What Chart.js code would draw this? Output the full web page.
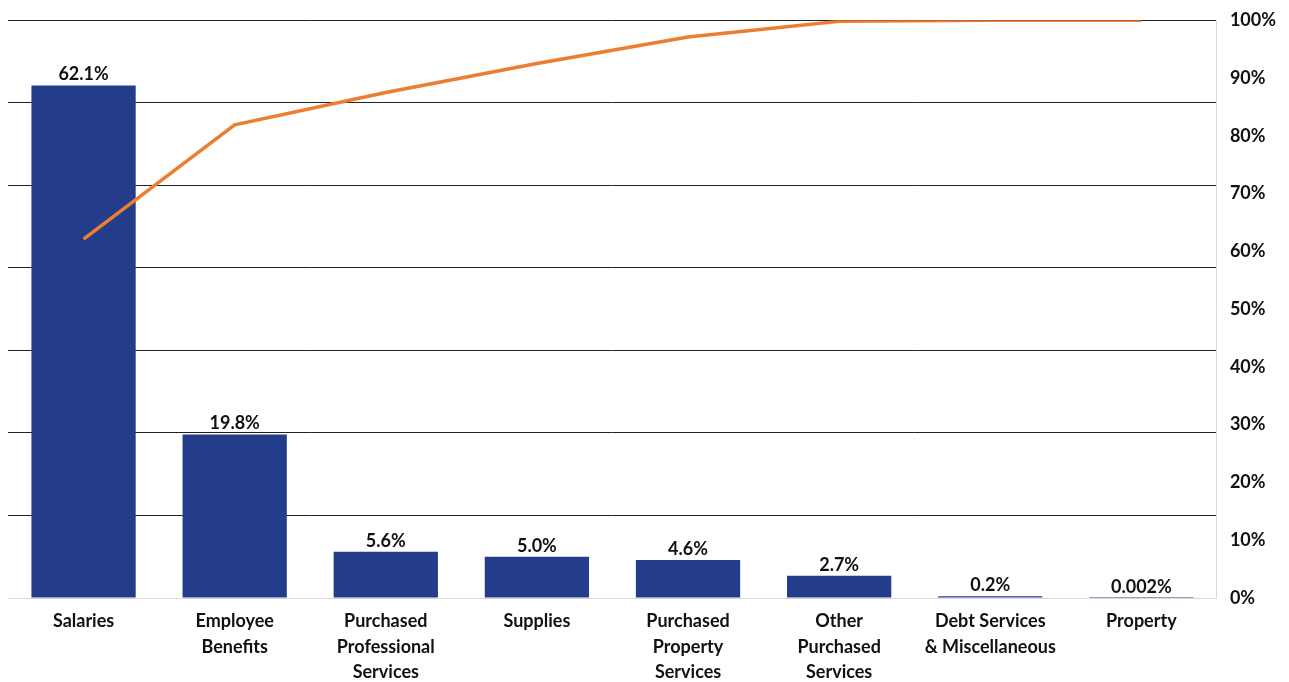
<!DOCTYPE html>
<html>
<head>
<meta charset="utf-8">
<script src="https://cdn.jsdelivr.net/npm/chart.js@4.4.1/dist/chart.umd.min.js"></script>
<style>
  html, body { margin: 0; padding: 0; background: #fff; }
  #wrap { width: 1289px; height: 682px; position: relative; }
</style>
</head>
<body>
<div id="wrap"><canvas id="myChart"></canvas></div>
<script>
const categories = [
    "Salaries",
    ["Employee", "Benefits"],
    ["Purchased", "Professional", "Services"],
    "Supplies",
    ["Purchased", "Property", "Services"],
    ["Other", "Purchased", "Services"],
    ["Debt Services", "& Miscellaneous"],
    "Property"
];

// share of spending per category (%)
const shares = [62.1, 19.8, 5.6, 5.0, 4.6, 2.7, 0.2, 0.002];

// running total (%)
const cumulative = [62.1, 81.9, 87.5, 92.5, 97.1, 99.8, 100, 100];

const rightTicks = [0, 10, 20, 30, 40, 50, 60, 70, 80, 90, 100];

const fontFamily = "Lato, 'Open Sans', sans-serif";

const fmtShare = (v) => v < 0.01 ? v + '%' : v.toFixed(1) + '%';

// write the share above every bar
const barLabels = {
    id: 'barLabels',
    afterDatasetsDraw(chart) {
        const ctx = chart.ctx;
        const meta = chart.getDatasetMeta(1);
        ctx.save();
        ctx.font = 'bold 18px ' + fontFamily;
        ctx.fillStyle = '#111';
        ctx.textAlign = 'center';
        ctx.textBaseline = 'bottom';
        meta.data.forEach((bar, i) => {
            ctx.fillText(fmtShare(shares[i]), bar.x, bar.y - 2);
        });
        ctx.restore();
    }
};

const ctx = document.getElementById('myChart').getContext('2d');
const myChart = new Chart(ctx, {
    type: 'bar',
    data: {
        labels: categories,
        datasets: [
            {
                type: 'line',
                label: 'cumulative',
                data: cumulative,
                yAxisID: 'y1',
                borderColor: '#ED7D31',
                borderWidth: 3.5,
                pointRadius: 0,
                tension: 0,
                order: 0
            },
            {
                label: 'share',
                data: shares,
                yAxisID: 'y',
                backgroundColor: '#233D8B',
                borderWidth: 0,
                barPercentage: 0.69,
                categoryPercentage: 1,
                order: 1
            }
        ]
    },
    options: {
        responsive: true,
        maintainAspectRatio: false,
        animation: false,
        layout: { padding: { left: 8, top: 0, right: 0, bottom: 0 } },
        plugins: {
            legend: { display: false },
            tooltip: { enabled: false }
        },
        scales: {
            x: {
                grid: { display: false, drawTicks: false },
                border: { color: '#d9d9d9', width: 1 },
                afterFit: (axis) => { axis.height = 84; },
                ticks: {
                    color: '#111',
                    padding: 11,
                    maxRotation: 0,
                    autoSkip: false,
                    font: { family: fontFamily, size: 18, weight: 'bold', lineHeight: 1.4 }
                }
            },
            y: {
                position: 'left',
                min: 0,
                max: 70,
                ticks: { display: false, stepSize: 10 },
                border: { display: false },
                grid: {
                    drawTicks: false,
                    color: (c) => c.tick && c.tick.value === 0 ? '#d9d9d9' : '#222',
                    lineWidth: 1
                }
            },
            y1: {
                position: 'right',
                min: 0,
                max: 100,
                afterBuildTicks: (axis) => {
                    axis.ticks = rightTicks.map(v => ({ value: v }));
                },
                border: { display: true, color: '#d9d9d9' },
                grid: { drawOnChartArea: false, drawTicks: false },
                ticks: {
                    color: '#111',
                    padding: 13,
                    callback: (value) => value + '%',
                    font: { family: fontFamily, size: 18, weight: 'bold', lineHeight: 0.8 }
                }
            }
        }
    },
    plugins: [barLabels]
});
</script>
</body>
</html>
